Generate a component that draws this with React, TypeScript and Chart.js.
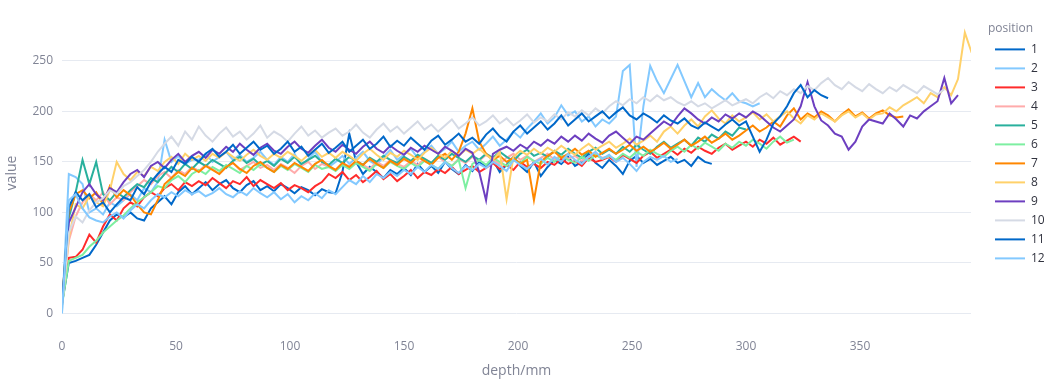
import React, { useEffect, useRef } from 'react';
import { Chart, registerables } from 'chart.js';

Chart.register(...registerables);

// ---------- data ----------
const DEPTH_STEP_MM = 3; // sampling grid of the depth profiles
const SERIES_NAMES = ['1', '2', '3', '4', '5', '6', '7', '8', '9', '10', '11', '12'];
const SERIES_COLORS = [
  '#0068C9', '#83C9FF', '#FF2B2B', '#FFABAB', '#29B09D', '#7DEFA1',
  '#FF8700', '#FFD16A', '#6D3FC0', '#D5DAE5', '#0068C9', '#83C9FF',
];
const X_TICKS = [0, 50, 100, 150, 200, 250, 300, 350];
const Y_TICKS = [0, 50, 100, 150, 200, 250];
const X_RANGE = [0, 398.7];
const Y_RANGE = [-15.4, 293.4];

const pos1 = [
  10, 50, 52, 55, 58, 68, 80, 92, 98, 95,
  100, 94, 92, 104, 110, 116, 108, 120, 126, 118,
  124, 130, 122, 128, 132, 124, 120, 127, 131, 122,
  126, 121, 128, 124, 119, 125, 122, 117, 123, 120,
  119, 140, 178, 150, 138, 145, 140, 134, 142, 138,
  144, 137, 148, 140, 146, 139, 150, 143, 138, 147,
  141, 150, 145, 152, 140, 147, 155, 146, 140, 150,
  136, 145, 152, 148, 155, 146, 150, 158, 149, 144,
  152, 146, 138, 151, 156, 149, 153, 147, 151, 155,
  149, 152, 146, 155, 150, 148,
];
const pos2 = [
  0, 138, 135, 128, 100, 104, 98, 110, 106, 112,
  118, 112, 124, 120, 130, 172, 150, 156, 148, 152,
  152, 158, 150, 155, 160, 152, 157, 150, 154, 160,
  152, 147, 155, 150, 158, 146, 153, 160, 150, 145,
  150, 156, 148, 154, 160, 151, 147, 155, 162, 152,
  157, 163, 154, 160, 166, 158, 163, 170, 160, 166,
  170, 162, 168, 175, 166, 172, 180, 174, 183, 190,
  198, 188, 194, 206, 196, 200, 190, 195, 185, 192,
  188, 195, 240, 246, 145, 205, 245, 230, 218, 232,
  246, 230, 214, 228, 214, 222, 216, 211, 218, 210,
  208, 205, 208,
];
const pos3 = [
  10, 55, 56, 63, 78, 70, 86, 98, 92, 104,
  110, 106, 115, 120, 116, 124, 128, 122, 130, 126,
  131, 127, 134, 129, 124, 131, 128, 135, 126, 132,
  128, 124, 129, 122, 127, 124, 120, 126, 130, 138,
  134, 140, 132, 137, 130, 135, 141, 133, 138, 131,
  136, 142, 134, 140, 137, 143, 139, 145, 138, 142,
  146, 140, 144, 149, 143, 147, 142, 150, 145, 148,
  144, 150, 147, 153, 148, 151, 146, 154, 150, 152,
  155, 150, 157, 153, 149, 156, 160, 154, 158, 162,
  157, 163, 159, 165, 161, 158, 164, 168, 162, 166,
  170, 165, 172, 168, 174, 167, 171, 175, 170,
];
const pos4 = [
  9, 72, 96, 110, 118, 112, 120, 108, 115, 112,
  120, 126, 132, 128, 136, 140, 134, 142, 138, 145,
  141, 147, 143, 138, 145, 149, 142, 146, 150, 144,
  147, 142, 148, 144, 139, 146, 150, 143, 148, 145,
  142, 149, 145, 151, 147, 143, 150, 146, 152, 148,
  145, 151, 147, 153, 149, 155, 150, 146, 153, 149,
  155, 151, 157, 152, 148, 154, 158, 152, 156, 150,
  154, 158, 152, 157, 153, 156, 151, 155, 158, 154, 155,
];
const pos5 = [
  10, 95, 120, 152, 128, 150, 118, 112, 120, 115,
  122, 128, 125, 134, 130, 138, 145, 140, 148, 143,
  150, 146, 152, 148, 144, 151, 155, 149, 153, 147,
  151, 146, 153, 149, 155, 148, 152, 156, 150, 147,
  153, 149, 155, 151, 147, 154, 150, 156, 152, 149,
  155, 151, 157, 153, 149, 156, 152, 158, 154, 150,
  156, 152, 158, 154, 160, 155, 151, 158, 162, 156,
  159, 155, 161, 157, 163, 158, 154, 160, 164, 158,
  162, 158, 165, 160, 167, 162, 158, 165, 170, 164,
  168, 172, 166, 174, 170, 177, 173, 180, 176, 184, 182,
];
const pos6 = [
  8, 52, 55, 58, 66, 72, 80, 86, 92, 97,
  104, 110, 115, 120, 126, 124, 132, 136, 130, 138,
  142, 138, 145, 141, 147, 143, 139, 146, 142, 148,
  144, 140, 146, 142, 148, 144, 140, 147, 143, 145,
  141, 147, 143, 149, 145, 141, 148, 144, 150, 146,
  143, 149, 145, 151, 147, 143, 150, 146, 152, 124,
  148, 152, 147, 154, 150, 146, 153, 149, 155, 151,
  148, 154, 150, 156, 152, 149, 155, 151, 157, 153,
  156, 152, 158, 154, 160, 156, 162, 158, 155, 161,
  165, 160, 167, 163, 169, 165, 161, 168, 164, 170,
  166, 172, 168, 163, 170, 175, 169, 172,
];
const pos7 = [
  10, 100, 118, 122, 114, 120, 108, 126, 115, 122,
  117, 108, 100, 98, 112, 128, 134, 140, 136, 144,
  140, 146, 142, 138, 145, 149, 143, 139, 146, 150,
  144, 140, 147, 143, 149, 145, 141, 148, 152, 146,
  142, 149, 145, 151, 147, 153, 148, 144, 151, 147,
  153, 149, 155, 151, 147, 154, 158, 152, 160, 178,
  203, 170, 158, 152, 156, 150, 154, 148, 152, 112,
  150, 156, 160, 154, 158, 163, 157, 161, 155, 159,
  163, 158, 162, 167, 161, 165, 160, 164, 169, 163,
  167, 172, 166, 170, 175, 169, 173, 178, 172, 176,
  181, 186, 180, 184, 190, 185, 196, 203, 192, 198,
  194, 200, 196, 190, 197, 202, 195, 199, 193, 198, 201, 196, 194, 195,
];
const pos8 = [
  10, 75, 108, 104, 116, 110, 106, 122, 150, 138,
  132, 140, 136, 145, 141, 150, 155, 148, 158, 152,
  156, 151, 158, 154, 160, 155, 151, 157, 162, 156,
  152, 158, 154, 160, 156, 151, 157, 162, 155, 159,
  154, 160, 156, 151, 158, 163, 157, 152, 159, 155,
  161, 157, 152, 159, 164, 158, 154, 161, 156, 162,
  158, 163, 157, 152, 160, 113, 155, 161, 157, 163,
  158, 164, 160, 166, 161, 157, 163, 168, 162, 166,
  170, 164, 168, 173, 167, 171, 176, 170, 180, 185,
  178, 186, 192, 185, 195, 201, 193, 188, 196, 190,
  194, 199, 192, 197, 190, 195, 200, 193, 188, 196,
  192, 198, 194, 190, 196, 200, 194, 198, 192, 197,
  198, 204, 200, 206, 210, 214, 208, 218, 214, 224,
  216, 232, 278, 258,
];
const pos9 = [
  10, 90, 105, 120, 128, 118, 112, 124, 120, 130,
  138, 142, 135, 146, 150, 144, 152, 158, 150, 156,
  160, 154, 162, 158, 165, 160, 168, 162, 157, 164,
  168, 161, 158, 165, 170, 163, 159, 166, 172, 164,
  160, 167, 162, 158, 165, 170, 163, 159, 166, 161,
  157, 164, 160, 166, 162, 158, 165, 161, 156, 163,
  159, 140, 112, 158, 162, 165, 161, 167, 163, 170,
  166, 172, 168, 175, 170, 176, 171, 178, 173, 169,
  176, 180, 174, 168, 175, 172, 178, 184, 190, 186,
  195, 203, 198, 192, 188, 194, 190, 197, 193, 198,
  194, 200, 196, 190, 184, 180, 186, 192, 205, 229,
  205, 191, 186, 178, 175, 162, 170, 185, 192, 190,
  188, 198, 192, 185, 196, 193, 200, 205, 210, 233, 208, 216,
];
const pos10 = [
  5, 80, 96, 90, 102, 110, 114, 122, 118, 126,
  130, 136, 142, 150, 160, 168, 175, 166, 180, 172,
  185, 176, 170, 178, 184, 175, 180, 172, 178, 186,
  174, 180, 176, 170, 178, 185, 176, 181, 174, 179,
  183, 176, 180, 187, 179, 174, 182, 188, 180, 185,
  178, 184, 190, 182, 187, 180, 186, 192, 183, 188,
  194, 186, 190, 196, 188, 193, 186, 191, 197, 189,
  194, 190, 197, 192, 199, 195, 201, 196, 203, 198,
  205, 210, 206, 212, 208, 214, 210, 216, 211, 214,
  209, 206, 210, 205, 208, 203, 207, 211, 206, 209,
  212, 208, 214, 218, 213, 220, 216, 222, 218, 225,
  221, 228, 233, 226, 222, 229, 224, 220, 227, 222,
  218, 224, 220, 226, 222, 218, 225, 221, 217, 222,
];
const pos11 = [
  8, 105, 120, 112, 118, 105, 110, 100, 108, 115,
  112, 125, 118, 130, 138, 145, 140, 152, 148, 155,
  150, 158, 163, 155, 160, 167, 158, 164, 170, 162,
  166, 158, 163, 170, 160, 165, 156, 162, 168, 159,
  164, 170, 160, 166, 172, 163, 168, 175, 165, 171,
  166, 174, 168, 162, 171, 176, 167, 172, 178, 170,
  174, 168, 177, 183, 175, 170, 180, 186, 178, 184,
  190, 182, 188, 196, 186, 192, 198, 190, 195, 200,
  193, 199, 204, 196, 192, 198, 194, 189, 196, 191,
  188, 193, 186, 183, 189, 185, 181, 187, 192, 186,
  190, 175, 160, 172, 188, 195, 205, 218, 226, 214, 221, 216, 213,
];
const pos12 = [
  2, 112, 118, 104, 95, 92, 90, 96, 100, 94,
  102, 108, 104, 112, 118, 115, 120, 116, 122, 118,
  121, 116, 119, 124, 118, 115, 121, 117, 124, 119,
  115, 120, 113, 118, 110, 116, 112, 119, 114, 122,
  118, 125, 132, 128, 136, 130, 138, 134, 140, 136,
  142, 138, 145, 140, 147, 143, 150, 144, 139, 146,
  142, 148, 144, 150, 146, 141, 152, 147, 143, 149,
  153, 147, 155, 150, 158, 152, 148, 155, 160, 153,
  157, 150, 154, 148, 141, 150, 155, 152, 156, 150, 153,
];

const SERIES_VALUES = [pos1, pos2, pos3, pos4, pos5, pos6, pos7, pos8, pos9, pos10, pos11, pos12];

// ---------- styling ----------
const FONT_FAMILY = '"Open Sans", verdana, arial, sans-serif';
const AXIS_TEXT = '#808495';
const LEGEND_TEXT = '#31333F';
const GRID_COLOR = '#E6EAF1';
const LEGEND_BOX_WIDTH = 78;
const LEGEND_SHIFT = 17;

const legendPlacement = {
  id: 'legendPlacement',
  beforeLayout(chart: any) {
    const lg = chart.legend;
    if (lg && !lg.__patched) {
      const orig = lg.fit.bind(lg);
      lg.fit = function () {
        orig();
        this.width = LEGEND_BOX_WIDTH;
      };
      lg.__patched = true;
    }
  },
  afterLayout(chart: any) {
    const lg = chart.legend;
    if (lg) {
      lg.left += LEGEND_SHIFT;
      lg.right += LEGEND_SHIFT;
    }
  },
};

export default function App() {
  const canvasRef = useRef<HTMLCanvasElement>(null);

  useEffect(() => {
    document.body.style.margin = '0';
    const canvas = canvasRef.current;
    if (!canvas) return;

    const datasets = SERIES_VALUES.map((values, i) => ({
      label: SERIES_NAMES[i],
      data: values.map((v, j) => ({ x: j * DEPTH_STEP_MM, y: v })),
      borderColor: SERIES_COLORS[i],
      backgroundColor: SERIES_COLORS[i],
      pointBorderColor: SERIES_COLORS[i],
      pointBackgroundColor: SERIES_COLORS[i],
      pointBorderWidth: 2,
      borderWidth: 2,
      pointRadius: 0,
      pointHoverRadius: 0,
      tension: 0,
      fill: false,
      order: SERIES_NAMES.length - i,
    }));

    const tickFont = { family: FONT_FAMILY, size: 12 };
    const titleFont = { family: FONT_FAMILY, size: 14 };

    const chart = new Chart(canvas, {
      type: 'line',
      data: { datasets },
      plugins: [legendPlacement],
      options: {
        animation: false,
        responsive: false,
        events: [],
        layout: { padding: { top: 17, right: 0, bottom: 0, left: 0 } },
        plugins: {
          tooltip: { enabled: false },
          legend: {
            position: 'right',
            align: 'start',
            title: {
              display: true,
              text: 'position',
              color: AXIS_TEXT,
              font: { family: FONT_FAMILY, size: 12 },
              padding: { top: 6, bottom: -1 },
              position: 'start',
            },
            labels: {
              usePointStyle: true,
              pointStyle: 'line',
              pointStyleWidth: 30,
              padding: 7,
              color: LEGEND_TEXT,
              font: { family: FONT_FAMILY, size: 12 },
              sort: (a: any, b: any) => a.datasetIndex - b.datasetIndex,
            },
          },
        },
        scales: {
          x: {
            type: 'linear',
            min: X_RANGE[0],
            max: X_RANGE[1],
            grid: { display: false, drawTicks: false },
            border: { display: false },
            afterBuildTicks: (scale: any) => {
              scale.ticks = X_TICKS.map((v) => ({ value: v }));
            },
            ticks: {
              color: AXIS_TEXT,
              font: tickFont,
              padding: 10,
              maxRotation: 0,
              autoSkip: false,
              callback: (v: any) => String(v),
            },
            title: {
              display: true,
              text: 'depth/mm',
              color: AXIS_TEXT,
              font: titleFont,
              padding: { top: 0, bottom: 5 },
            },
            afterFit: (scale: any) => {
              scale.height = 55;
            },
          },
          y: {
            type: 'linear',
            min: Y_RANGE[0],
            max: Y_RANGE[1],
            grid: { color: GRID_COLOR, drawTicks: false, lineWidth: 1 },
            border: { display: false },
            afterBuildTicks: (scale: any) => {
              scale.ticks = Y_TICKS.map((v) => ({ value: v }));
            },
            ticks: {
              color: AXIS_TEXT,
              font: tickFont,
              padding: 9,
              callback: (v: any) => String(v),
            },
            title: {
              display: true,
              text: 'value',
              color: AXIS_TEXT,
              font: titleFont,
              padding: { top: 4, bottom: 0 },
            },
            afterFit: (scale: any) => {
              scale.width = 62;
            },
          },
        },
      } as any,
    });

    return () => chart.destroy();
  }, []);

  return (
    <div style={{ position: 'fixed', left: 0, top: 0, width: 1049, height: 384, background: '#fff' }}>
      <canvas ref={canvasRef} width={1049} height={384} style={{ display: 'block', width: 1049, height: 384 }} />
    </div>
  );
}
